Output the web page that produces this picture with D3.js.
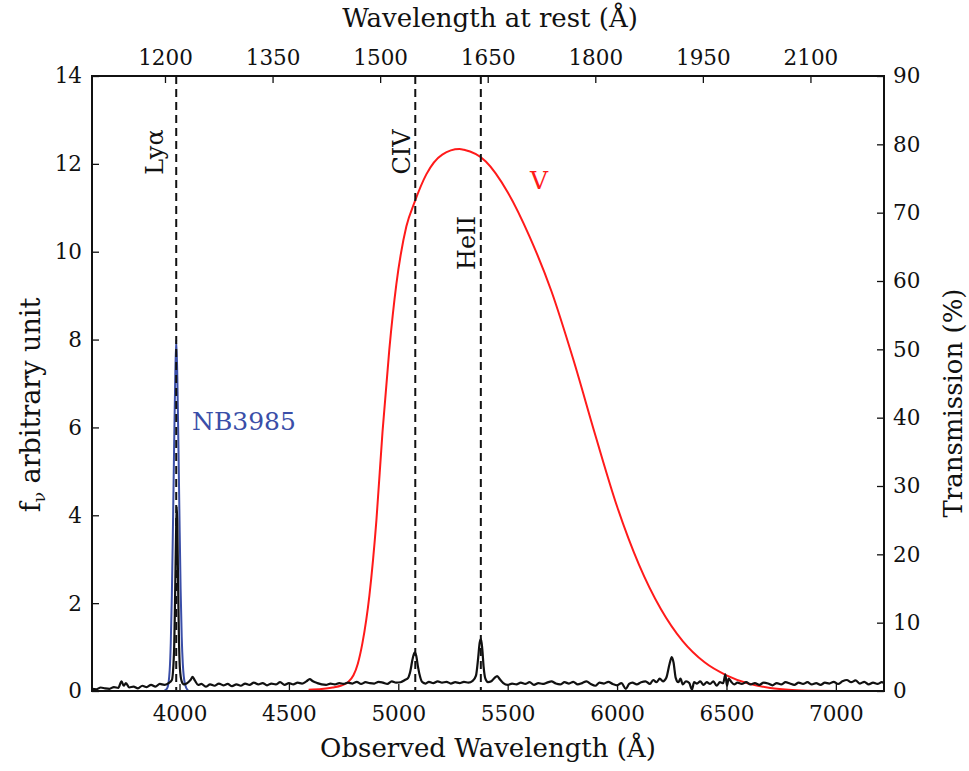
<!DOCTYPE html>
<html><head><meta charset="utf-8">
<script src="https://cdn.jsdelivr.net/npm/d3@7/dist/d3.min.js"></script>
<style>body{margin:0;background:#fff}svg{display:block}text{font-family:"DejaVu Serif",serif;fill:#111}</style>
</head><body><svg id="c" width="969" height="771"></svg>
<script>
// ---- data ----
const redshift = 2.278;
const xTicks = [4000, 4500, 5000, 5500, 6000, 6500, 7000];
const restTicks = [1200, 1350, 1500, 1650, 1800, 1950, 2100];
const yLeftTicks = [0, 2, 4, 6, 8, 10, 12, 14];
const yRightTicks = [0, 10, 20, 30, 40, 50, 60, 70, 80, 90];
const lineNames = ["Lyα", "CIV", "HeII"];
const lineRest = [1215.67, 1549, 1640.4];
// observed spectrum [wavelength Å, f_nu]
const spectrum = [
[3600,0.05],[3620,0.04],[3640,0.08],[3660,0.06],[3680,0.05],[3700,0.09],[3720,0.07],[3735,0.22],[3745,0.12],[3755,0.18],
[3770,0.08],[3790,0.10],[3810,0.06],[3830,0.12],[3850,0.09],[3870,0.14],[3890,0.10],[3910,0.16],[3930,0.14],[3950,0.18],
[3965,0.25],[3975,0.9],[3980,2.2],[3984,3.5],[3987,4.2],[3990,3.8],[3993,2.6],[3997,1.3],[4002,0.5],[4010,0.22],
[4020,0.15],[4035,0.18],[4050,0.25],[4060,0.32],[4070,0.24],[4085,0.14],[4100,0.16],[4120,0.10],[4140,0.15],[4160,0.12],
[4180,0.17],[4200,0.13],[4220,0.16],[4240,0.11],[4260,0.15],[4280,0.12],[4300,0.17],[4320,0.14],[4340,0.19],[4360,0.15],
[4380,0.18],[4400,0.13],[4420,0.17],[4440,0.15],[4460,0.20],[4480,0.14],[4500,0.18],[4520,0.15],[4540,0.19],[4560,0.17],
[4580,0.22],[4595,0.27],[4610,0.22],[4630,0.18],[4650,0.15],[4670,0.14],[4690,0.17],[4710,0.15],[4730,0.18],[4750,0.16],
[4770,0.19],[4790,0.17],[4810,0.21],[4830,0.16],[4850,0.20],[4870,0.18],[4890,0.17],[4910,0.21],[4930,0.19],[4950,0.16],
[4970,0.22],[4990,0.19],[5010,0.20],[5030,0.25],[5045,0.30],[5055,0.45],[5065,0.72],[5075,0.88],[5082,0.80],[5090,0.55],
[5100,0.32],[5110,0.20],[5125,0.17],[5140,0.21],[5160,0.18],[5180,0.22],[5200,0.19],[5220,0.21],[5240,0.17],[5260,0.20],
[5280,0.18],[5300,0.21],[5320,0.19],[5340,0.23],[5355,0.35],[5365,0.75],[5372,1.10],[5378,1.18],[5384,0.95],[5390,0.55],
[5398,0.28],[5410,0.20],[5425,0.22],[5440,0.30],[5452,0.34],[5465,0.26],[5480,0.18],[5500,0.14],[5520,0.17],[5540,0.15],
[5560,0.19],[5580,0.16],[5600,0.20],[5620,0.14],[5640,0.18],[5660,0.16],[5680,0.19],[5700,0.22],[5720,0.17],[5740,0.15],
[5760,0.20],[5780,0.17],[5800,0.21],[5820,0.15],[5840,0.18],[5860,0.22],[5880,0.16],[5900,0.12],[5920,0.19],[5940,0.17],
[5960,0.21],[5980,0.16],[6000,0.13],[6020,0.18],[6040,0.05],[6055,0.16],[6070,0.19],[6090,0.15],[6110,0.20],[6130,0.22],
[6150,0.16],[6165,0.25],[6180,0.20],[6195,0.28],[6210,0.22],[6225,0.30],[6240,0.62],[6250,0.77],[6258,0.65],[6268,0.30],
[6280,0.20],[6290,0.28],[6300,0.15],[6315,0.22],[6330,0.18],[6342,0.03],[6352,0.20],[6365,0.17],[6380,0.22],[6395,0.14],
[6410,0.20],[6425,0.16],[6440,0.22],[6455,0.12],[6470,0.20],[6485,0.18],[6495,0.38],[6502,0.12],[6510,0.28],[6520,0.22],
[6535,0.15],[6550,0.19],[6570,0.16],[6590,0.20],[6610,0.15],[6630,0.18],[6650,0.14],[6670,0.19],[6690,0.17],[6710,0.13],
[6730,0.18],[6750,0.15],[6770,0.20],[6790,0.17],[6810,0.14],[6830,0.19],[6850,0.16],[6870,0.20],[6890,0.15],[6910,0.18],
[6930,0.14],[6950,0.19],[6970,0.17],[6990,0.21],[7010,0.16],[7030,0.22],[7050,0.25],[7070,0.20],[7090,0.24],[7110,0.17],
[7130,0.21],[7150,0.15],[7170,0.19],[7190,0.16],[7210,0.20],[7220,0.18]
];
// NB3985 transmission (%)
const nb3985 = [
[3930,0],[3945,0.5],[3955,3],[3960,7],[3965,14],[3970,24],[3975,35],[3980,45],[3985,51.4],[3990,46],[3995,36],
[4000,25],[4005,15],[4010,8],[4015,4],[4025,1],[4040,0]
];
// V band transmission (%)
const vBand = [
[4590,0.2],[4650,0.3],[4700,0.5],[4740,0.8],[4770,1.3],[4795,2.3],[4815,4],[4836,7],[4868,14],[4900,25],[4928,38],
[4959,50],[4991,59.5],[5037,68],[5074,71.5],[5128,75.6],[5201,78.5],[5279,79.3],[5300,79.2],[5400,77.5],[5500,73],
[5600,66.5],[5700,58.5],[5800,48.5],[5900,37.5],[6000,27],[6100,18.5],[6200,12],[6300,7.3],[6400,4.2],[6500,2.3],
[6600,1.1],[6700,0.45],[6800,0.15],[6900,0.03],[7000,0]
];

// ---- layout ----
const L = 92, R = 884, T = 76, B = 691;
const svg = d3.select("#c");
const x = d3.scaleLinear().domain([3600, 7220]).range([L, R]);
const yL = d3.scaleLinear().domain([0, 14]).range([B, T]);
const yR = d3.scaleLinear().domain([0, 90]).range([B, T]);
const xTop = d3.scaleLinear().domain([3600 / (1 + redshift), 7220 / (1 + redshift)]).range([L, R]);

const fs = 21.5;
function styleAxis(g) {
  g.select(".domain").remove();
  g.selectAll(".tick line").attr("stroke", "#111").attr("stroke-width", 1.3);
  g.selectAll(".tick text").attr("font-size", fs).attr("fill", "#111")
    .style("font-family", '"DejaVu Serif",serif');
}
svg.append("g").attr("transform", `translate(0,${B})`)
  .call(d3.axisBottom(x).tickValues(xTicks).tickSizeInner(-7).tickSizeOuter(0).tickPadding(15).tickFormat(d3.format("d")))
  .call(styleAxis);
svg.append("g").attr("transform", `translate(0,${T})`)
  .call(d3.axisTop(xTop).tickValues(restTicks).tickSizeInner(-7).tickSizeOuter(0).tickPadding(11).tickFormat(d3.format("d")))
  .call(styleAxis);
svg.append("g").attr("transform", `translate(${L},0)`)
  .call(d3.axisLeft(yL).tickValues(yLeftTicks).tickSizeInner(-7).tickSizeOuter(0).tickPadding(10).tickFormat(d3.format("d")))
  .call(styleAxis);
svg.append("g").attr("transform", `translate(${R},0)`)
  .call(d3.axisRight(yR).tickValues(yRightTicks).tickSizeInner(-7).tickSizeOuter(0).tickPadding(9).tickFormat(d3.format("d")))
  .call(styleAxis);

svg.append("clipPath").attr("id", "clip").append("rect").attr("x", L).attr("y", T).attr("width", R - L).attr("height", B - T);
const plot = svg.append("g").attr("clip-path", "url(#clip)");

plot.append("path").datum(vBand)
  .attr("d", d3.line().x(d => x(d[0])).y(d => yR(d[1])).curve(d3.curveMonotoneX))
  .attr("fill", "none").attr("stroke", "#ff1a1a").attr("stroke-width", 2);
plot.append("path").datum(nb3985)
  .attr("d", d3.line().x(d => x(d[0])).y(d => yR(d[1])).curve(d3.curveMonotoneX))
  .attr("fill", "none").attr("stroke", "#3a4ea8").attr("stroke-width", 2);
plot.append("path").datum(spectrum)
  .attr("d", d3.line().x(d => x(d[0])).y(d => yL(d[1])).curve(d3.curveMonotoneX))
  .attr("fill", "none").attr("stroke", "#111").attr("stroke-width", 2.2).attr("stroke-linejoin", "round");

lineRest.forEach((w) => {
  plot.append("line").attr("x1", x(w * (1 + redshift))).attr("x2", x(w * (1 + redshift)))
    .attr("y1", T).attr("y2", B).attr("stroke", "#111").attr("stroke-width", 2).attr("stroke-dasharray", "8,5");
});
const labelOffsets = [[-13, 152], [-5, 152], [-6, 243]];
lineNames.forEach((n, i) => {
  const px = x(lineRest[i] * (1 + redshift)) + labelOffsets[i][0];
  svg.append("text").attr("transform", `translate(${px},${labelOffsets[i][1]}) rotate(-90)`)
    .attr("text-anchor", "middle").attr("font-size", 24).text(n);
});
svg.append("text").attr("x", 192).attr("y", 430).attr("font-size", 25).style("fill", "#3a4ea8").text("NB3985");
svg.append("text").attr("x", 530).attr("y", 189).attr("font-size", 25).style("fill", "#ff1a1a").text("V");

svg.append("rect").attr("x", L).attr("y", T).attr("width", R - L).attr("height", B - T)
  .attr("fill", "none").attr("stroke", "#111").attr("stroke-width", 2);

svg.append("text").attr("x", 488).attr("y", 757).attr("text-anchor", "middle").attr("font-size", 26)
  .text("Observed Wavelength (Å)");
svg.append("text").attr("x", 490).attr("y", 27).attr("text-anchor", "middle").attr("font-size", 26)
  .text("Wavelength at rest (Å)");
const lt = svg.append("text").attr("transform", `translate(40,405) rotate(-90)`).attr("text-anchor", "middle").attr("font-size", 27);
lt.append("tspan").text("f");
lt.append("tspan").attr("font-size", 17).attr("dy", 5).text("ν");
lt.append("tspan").attr("dy", -5).text(" arbitrary unit");
svg.append("text").attr("transform", `translate(962,403) rotate(-90)`).attr("text-anchor", "middle").attr("font-size", 26)
  .text("Transmission (%)");
</script></body></html>
